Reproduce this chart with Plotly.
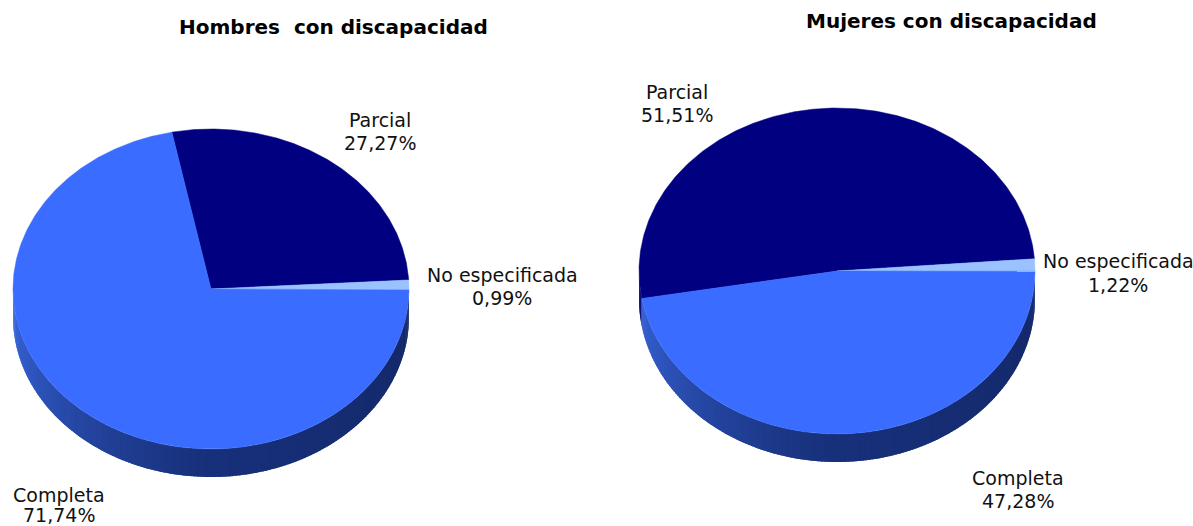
import math
import plotly.graph_objects as go

categories = ["Parcial", "No especificada", "Completa"]
hombres = [27.27, 0.99, 71.74]
mujeres = [51.51, 1.22, 47.28]
titulo_h = "Hombres  con discapacidad"
titulo_m = "Mujeres con discapacidad"

COLORS = {"Parcial": "#000080", "No especificada": "#99C2FF", "Completa": "#3A6CFF"}
W, H = 1193, 526
DEPTH = 28


def lerp(c1, c2, t):
    a = [int(c1[i:i + 2], 16) for i in (1, 3, 5)]
    b = [int(c2[i:i + 2], 16) for i in (1, 3, 5)]
    return "rgb(%d,%d,%d)" % tuple(round(x + (y - x) * t) for x, y in zip(a, b))


def side_color(deg, cat):
    # deg 90 = right edge, 180 = bottom, 270 = left edge
    t = (deg - 90) / 180
    if cat == "Parcial":
        return lerp("#000050", "#000070", t)
    if t < 0.5:
        return lerp("#142868", "#17307A", t * 2)
    return lerp("#17307A", "#3A68E0", ((t - 0.5) * 2) ** 1.2)


def add_pie(fig, values, names, cx, cy, rx, ry, start):
    total = sum(values)
    spans = []
    a = start
    for n, v in zip(names, values):
        b = a + v / total * 360
        spans.append((n, a, b))
        a = b
    pt = lambda d, dy=0: (cx + rx * math.sin(math.radians(d)), cy - ry * math.cos(math.radians(d)) + dy)
    # side wall, drawn as overlapping thin strips over the lower half of the ellipse
    for n, a, b in spans:
        for off in (-360, 0, 360):
            lo, hi = max(a + off, 90), min(b + off, 270)
            d = lo
            while d < hi:
                e = min(d + 1, hi)
                e2 = min(e + 0.8, 270)
                p = [pt(d), pt(e2), pt(e2, DEPTH), pt(d, DEPTH), pt(d)]
                c = side_color((d + e) / 2, n)
                fig.add_trace(go.Scatter(x=[q[0] for q in p], y=[q[1] for q in p], mode="lines",
                                         fill="toself", fillcolor=c, line=dict(width=0),
                                         hoverinfo="skip", showlegend=False))
                d = e
    # top face
    for n, a, b in spans:
        steps = max(2, int((b - a) * 2))
        p = [pt(a + (b - a) * i / steps) for i in range(steps + 1)]
        p = [(cx, cy)] + p + [(cx, cy)]
        fig.add_trace(go.Scatter(x=[q[0] for q in p], y=[q[1] for q in p], mode="lines",
                                 fill="toself", fillcolor=COLORS[n], line=dict(color=COLORS[n], width=0.5),
                                 name=n, hoverinfo="name", showlegend=False))


fig = go.Figure()
add_pie(fig, hombres, categories, 211, 289, 198, 160, -11.4)
add_pie(fig, mujeres, categories, 837, 271, 198, 163, -99.7)


def fmt(v):
    return f"{v:.2f}".replace(".", ",") + "%"


annots = []


def label(name, value, x, y1, y2):
    for text, y in ((name, y1), (fmt(value), y2)):
        annots.append(dict(x=x, y=y, xref="x", yref="y", text=text, showarrow=False, align="center",
                           font=dict(family="DejaVu Sans", size=19, color="#111111")))


label(categories[0], hombres[0], 380, 120, 143)
label(categories[1], hombres[1], 502, 275, 298)
label(categories[2], hombres[2], 59, 495, 515)
label(categories[0], mujeres[0], 677, 92, 115)
label(categories[1], mujeres[1], 1118, 261, 285)
label(categories[2], mujeres[2], 1018, 478, 501)
for t, x, y in ((titulo_h, 333, 27), (titulo_m, 951, 21)):
    annots.append(dict(x=x, y=y, xref="x", yref="y", text=f"<b>{t}</b>", showarrow=False,
                       font=dict(family="DejaVu Sans", size=20, color="#000000")))

fig.update_layout(width=W, height=H, margin=dict(l=0, r=0, t=0, b=0), paper_bgcolor="white",
                  plot_bgcolor="white", annotations=annots, showlegend=False,
                  xaxis=dict(range=[0, W], visible=False, fixedrange=True),
                  yaxis=dict(range=[H, 0], visible=False, fixedrange=True))
fig.write_html("out.html", config={"displayModeBar": False},
               post_script="document.body.style.margin='0';document.body.style.overflow='hidden';")
